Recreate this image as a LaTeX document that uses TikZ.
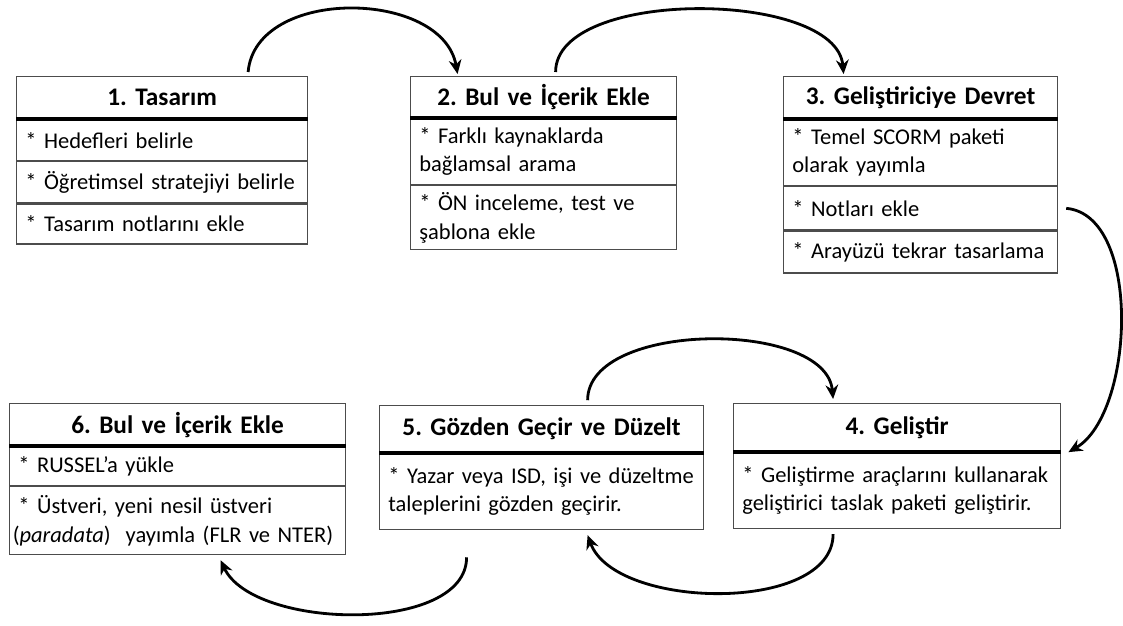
\documentclass[tikz,border=0pt]{standalone}
\usepackage{fontspec}
\setmainfont{Carlito}
\usetikzlibrary{arrows.meta}

\tikzset{
  head/.style={draw=black!70, line width=0.8pt, anchor=north west, inner xsep=0.2cm, inner ysep=0pt,
    align=center, font=\fontsize{18}{20}\selectfont\bfseries},
  item/.style={draw=black!70, line width=0.8pt, anchor=north, inner xsep=0.22cm, inner ysep=0pt,
    align=left, font=\fontsize{16}{20}\selectfont},
  bar/.style={line width=2.4pt},
  flow/.style={line width=2pt, -{Stealth[length=10pt,width=9pt]}}
}

\begin{document}
\frenchspacing
\spaceskip=2.9pt plus 0.5pt\relax
\begin{tikzpicture}[x=0.025cm, y=-0.025cm]
  \useasboundingbox (0,0) rectangle (1123,625);

  % 1. Tasarim
  \node[head, text width=6.875cm, minimum height=1.05cm] (h1) at (16,76) {1. Tasarım};
  \node[item, text width=6.835cm, minimum height=1.025cm] (r1a) at (h1.south) {* Hedefleri belirle};
  \node[item, text width=6.835cm, minimum height=1.025cm] (r1b) at (r1a.south) {* Öğretimsel stratejiyi belirle};
  \node[item, text width=6.835cm, minimum height=1.0cm] (r1c) at (r1b.south) {* Tasarım notlarını ekle};

  % 2. Bul ve Icerik Ekle
  \node[head, text width=6.25cm, minimum height=1.025cm] (h2) at (410,76) {2. Bul ve İçerik Ekle};
  \node[item, text width=6.21cm, minimum height=1.65cm] (r2a) at (h2.south) {* Farklı kaynaklarda\\bağlamsal arama};
  \node[item, text width=6.21cm, minimum height=1.6cm] (r2b) at (r2a.south) {* ÖN inceleme, test ve\\şablona ekle};

  % 3. Gelistiriciye Devret
  \node[head, text width=6.45cm, minimum height=1.05cm] (h3) at (783,76) {3. Geliştiriciye Devret};
  \node[item, text width=6.41cm, minimum height=1.65cm] (r3a) at (h3.south) {* Temel SCORM paketi\\olarak yayımla};
  \node[item, text width=6.41cm, minimum height=1.075cm] (r3b) at (r3a.south) {* Notları ekle};
  \node[item, text width=6.41cm, minimum height=1.05cm] (r3c) at (r3b.south) {* Arayüzü tekrar tasarlama};

  % 4. Gelistir
  \node[head, text width=7.775cm, minimum height=1.2cm] (h4) at (733,403) {4. Geliştir};
  \node[item, text width=7.735cm, minimum height=1.9cm] (r4) at (h4.south) {* Geliştirme araçlarını kullanarak\\geliştirici taslak paketi geliştirir.};

  % 5. Gozden Gecir ve Duzelt
  \node[head, text width=7.7cm, minimum height=1.175cm] (h5) at (379,405) {5. Gözden Geçir ve Düzelt};
  \node[item, text width=7.66cm, minimum height=1.9cm] (r5) at (h5.south) {* Yazar veya ISD, işi ve düzeltme\\taleplerini gözden geçirir.};

  % 6. Bul ve Icerik Ekle
  \node[head, text width=8.0cm, minimum height=1.05cm] (h6) at (9,403) {6. Bul ve İçerik Ekle};
  \node[item, text width=7.96cm, minimum height=0.975cm] (r6a) at (h6.south) {* RUSSEL’a yükle};
  \node[item, inner xsep=0.08cm, text width=8.24cm, minimum height=1.7cm] (r6b) at (r6a.south)
    {\hspace*{0.14cm}* Üstveri, yeni nesil üstveri\\(\textit{paradata})~ yayımla (FLR ve NTER)};

  % header rules
  \foreach \h in {h1,h2,h3,h4,h5,h6}
    \draw[bar] (\h.south west) -- (\h.south east);

  % flow
  \draw[flow] ([xshift=2.15cm,yshift=0.1cm]h1.north) to[out=85,in=100,looseness=1.05] ([xshift=-2.15cm,yshift=0.05cm]h2.north);
  \draw[flow] ([xshift=0.3cm,yshift=0.1cm]h2.north) to[out=90,in=95,looseness=0.75] ([xshift=-1.925cm,yshift=0.05cm]h3.north);
  \draw[flow] ([xshift=0.2cm]r3b.east) to[out=-5,in=30,looseness=0.8] ([xshift=0.18cm]h4.south east);
  \draw[flow] ([xshift=1.15cm,yshift=0.12cm]h5.north) to[out=90,in=95,looseness=0.83] ([xshift=-1.6cm,yshift=0.1cm]h4.north);
  \draw[flow] ([xshift=-1.6cm,yshift=-0.12cm]r4.south) to[out=-90,in=-70,looseness=0.83] ([xshift=1.15cm,yshift=-0.12cm]r5.south);
  \draw[flow] ([xshift=-1.875cm,yshift=-0.675cm]r5.south) to[out=-90,in=-65,looseness=0.8] ([xshift=1.075cm,yshift=-0.12cm]r6b.south);

\end{tikzpicture}
\end{document}
